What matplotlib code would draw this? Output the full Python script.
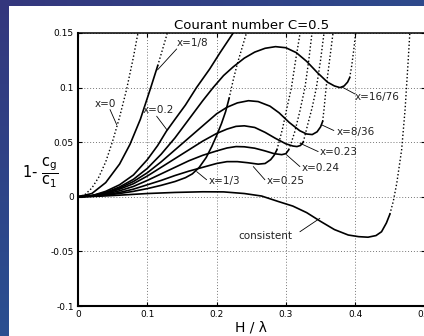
import numpy as np
import matplotlib
matplotlib.use("Agg")
import matplotlib.pyplot as plt
from matplotlib.colors import to_rgb

# ---- data (H/lambda, 1 - cg/c1) ----
# solid part of each curve, then its dotted continuation
h_x0d = [0, 0.01, 0.02, 0.03, 0.04, 0.05, 0.06, 0.07, 0.08, 0.088]
v_x0d = [0, 0.002, 0.008, 0.018, 0.032, 0.051, 0.073, 0.098, 0.128, 0.155]

h_18 = [0, 0.02, 0.04, 0.06, 0.075, 0.09, 0.105, 0.115]
v_18 = [0, 0.003, 0.013, 0.03, 0.048, 0.071, 0.1, 0.12]
h_18d = [0.115, 0.122, 0.128, 0.131]
v_18d = [0.12, 0.135, 0.148, 0.156]

h_02 = [0, 0.02, 0.04, 0.06, 0.08, 0.1, 0.115, 0.1275, 0.14, 0.155, 0.171,
        0.19, 0.205, 0.226]
v_02 = [0, 0.001, 0.005, 0.011, 0.02, 0.034, 0.047, 0.06, 0.071, 0.084, 0.1,
        0.117, 0.132, 0.152]

h_1676 = [0, 0.02, 0.04, 0.06, 0.08, 0.1, 0.12, 0.14, 0.16, 0.18, 0.195, 0.21,
          0.224, 0.24, 0.255, 0.27, 0.285, 0.3, 0.315, 0.33, 0.345, 0.36, 0.37,
          0.378, 0.384, 0.389, 0.392]
v_1676 = [0, 0.001, 0.004, 0.009, 0.016, 0.026, 0.039, 0.054, 0.071, 0.088,
          0.1, 0.111, 0.119, 0.127, 0.1325, 0.136, 0.1375, 0.1365, 0.132, 0.124,
          0.114, 0.105, 0.1015, 0.1, 0.1015, 0.105, 0.109]
h_1676d = [0.392, 0.395, 0.398, 0.401]
v_1676d = [0.109, 0.12, 0.135, 0.152]

h_836 = [0, 0.02, 0.04, 0.06, 0.08, 0.1, 0.12, 0.14, 0.16, 0.18, 0.2, 0.215,
         0.23, 0.246, 0.26, 0.277, 0.29, 0.305, 0.32, 0.33, 0.338, 0.345, 0.35,
         0.353]
v_836 = [0, 0.001, 0.0035, 0.008, 0.014, 0.022, 0.032, 0.043, 0.054, 0.065,
         0.076, 0.082, 0.086, 0.088, 0.0872, 0.083, 0.077, 0.068, 0.0605,
         0.0575, 0.057, 0.0595, 0.064, 0.069]
h_836d = [0.353, 0.355, 0.358, 0.363, 0.368]
v_836d = [0.069, 0.08, 0.1, 0.125, 0.15]

h_023 = [0, 0.02, 0.04, 0.06, 0.08, 0.1, 0.12, 0.14, 0.16, 0.18, 0.2, 0.215,
         0.228, 0.24, 0.255, 0.27, 0.285, 0.3, 0.31, 0.316, 0.321, 0.325]
v_023 = [0, 0.001, 0.003, 0.007, 0.012, 0.019, 0.027, 0.035, 0.043, 0.051,
         0.058, 0.062, 0.0645, 0.065, 0.0635, 0.059, 0.0535, 0.0485, 0.0465,
         0.046, 0.047, 0.05]
h_023d = [0.325, 0.331, 0.338, 0.344, 0.35, 0.355]
v_023d = [0.05, 0.065, 0.082, 0.1, 0.125, 0.15]

h_024 = [0, 0.02, 0.04, 0.06, 0.08, 0.1, 0.12, 0.14, 0.16, 0.18, 0.2, 0.215,
         0.228, 0.24, 0.255, 0.27, 0.283, 0.294, 0.3, 0.304]
v_024 = [0, 0.0008, 0.0025, 0.0055, 0.0095, 0.015, 0.021, 0.027, 0.033, 0.038,
         0.042, 0.0447, 0.046, 0.0458, 0.0445, 0.042, 0.0395, 0.0386, 0.0395,
         0.043]
h_024d = [0.304, 0.308, 0.313, 0.32, 0.3275, 0.333, 0.338]
v_024d = [0.043, 0.05, 0.06, 0.078, 0.1, 0.125, 0.152]

h_025 = [0, 0.02, 0.04, 0.06, 0.08, 0.1, 0.12, 0.14, 0.16, 0.18, 0.2, 0.215,
         0.23, 0.245, 0.26, 0.27, 0.278, 0.283, 0.287]
v_025 = [0, 0.0006, 0.002, 0.004, 0.007, 0.011, 0.015, 0.0195, 0.0235, 0.027,
         0.0305, 0.0322, 0.0322, 0.0312, 0.0299, 0.0305, 0.034, 0.038, 0.043]
h_025d = [0.287, 0.29, 0.295, 0.301, 0.308, 0.314, 0.321]
v_025d = [0.043, 0.05, 0.062, 0.08, 0.1, 0.125, 0.152]

h_13 = [0, 0.02, 0.04, 0.06, 0.08, 0.1, 0.12, 0.14, 0.155, 0.165, 0.175, 0.185,
        0.193, 0.2, 0.207, 0.213, 0.218]
v_13 = [0, 0.0004, 0.0015, 0.003, 0.005, 0.0075, 0.0105, 0.014, 0.0175, 0.021,
        0.027, 0.036, 0.046, 0.056, 0.067, 0.078, 0.09]
h_13d = [0.218, 0.224, 0.23, 0.237, 0.244]
v_13d = [0.09, 0.107, 0.122, 0.137, 0.152]

h_cons = [0, 0.03, 0.06, 0.1, 0.14, 0.18, 0.21, 0.24, 0.265, 0.289, 0.31,
          0.33, 0.35, 0.37, 0.39, 0.405, 0.4185, 0.43, 0.438, 0.445, 0.45]
v_cons = [0, 0.0005, 0.0015, 0.003, 0.004, 0.0046, 0.0045, 0.003, 0.0007,
          -0.0043, -0.0085, -0.0145, -0.0225, -0.030, -0.035, -0.0365, -0.037,
          -0.0355, -0.032, -0.024, -0.016]
h_consd = [0.45, 0.455, 0.46, 0.467, 0.472, 0.476, 0.479]
v_consd = [-0.016, -0.004, 0.0125, 0.043, 0.08, 0.12, 0.152]

solid = [(h_18, v_18), (h_02, v_02), (h_1676, v_1676), (h_836, v_836),
         (h_023, v_023), (h_024, v_024), (h_025, v_025), (h_13, v_13),
         (h_cons, v_cons)]
dotted = [(h_x0d, v_x0d), (h_18d, v_18d), (h_1676d, v_1676d), (h_836d, v_836d),
          (h_023d, v_023d), (h_024d, v_024d), (h_025d, v_025d), (h_13d, v_13d),
          (h_consd, v_consd)]

# label text, text position, alignment, leader line start, leader end (on curve)
labels = [
    ("x=0", (0.0389, 0.0851), "center", (0.0462, 0.0799), (0.0558, 0.0661)),
    ("x=1/8", (0.1659, 0.1409), "center", (0.1424, 0.1354), (0.1147, 0.1162)),
    ("x=0.2", (0.1158, 0.0799), "center", (0.1135, 0.0738), (0.128, 0.0616)),
    ("x=16/76", (0.3996, 0.0918), "left", (0.3996, 0.0942), (0.3808, 0.1006)),
    ("x=8/36", (0.3731, 0.0597), "left", (0.3692, 0.0607), (0.3515, 0.0659)),
    ("x=0.23", (0.349, 0.0414), "left", (0.3466, 0.0414), (0.3202, 0.0491)),
    ("x=0.24", (0.3227, 0.0263), "left", (0.3202, 0.0277), (0.301, 0.0384)),
    ("x=0.25", (0.2722, 0.0146), "left", (0.2697, 0.0156), (0.2529, 0.0277)),
    ("x=1/3", (0.1879, 0.0146), "left", (0.1856, 0.0156), (0.1712, 0.0231)),
    ("consistent", (0.2697, -0.0363), "center", (0.3202, -0.032), (0.349, -0.0197)),
]

xticks = [0, 0.1, 0.2, 0.3, 0.4, 0.5]
xtick_labels = ["0", "0.1", "0.2", "0.3", "0.4", "0.5"]
yticks = [-0.1, -0.05, 0, 0.05, 0.1, 0.15]
ytick_labels = ["-0.1", "-0.05", "0", "0.05", "0.1", "0.15"]

W, H = 424, 336
fig = plt.figure(figsize=(W / 100, H / 100), dpi=100, facecolor="white")

# blue slide border (left and top strips)
def strip(c0, c1, n, across, vertical):
    t = np.linspace(0, 1, n)[:, None]
    col = (1 - t) * np.array(to_rgb(c0)) + t * np.array(to_rgb(c1))
    if vertical:
        return np.repeat(col[:, None, :], across, axis=1)
    return np.repeat(col[None, :, :], across, axis=0)

fig.figimage(strip("#34377d", "#2a4f91", H, 9, True), xo=0, yo=0, origin="upper")
fig.figimage(strip("#34377d", "#2e4a8c", W, 6, False), xo=0, yo=H - 6, origin="upper")

ax = fig.add_axes([78 / W, 30 / H, 346.5 / W, 273 / H])

for hh, vv in solid:
    ax.plot(hh, vv, color="black", lw=1.2, solid_joinstyle="round")
for hh, vv in dotted:
    ax.plot(hh, vv, color="black", lw=1.0, linestyle=(0, (1, 1.6)))

for txt, pos, ha, p0, p1 in labels:
    ax.text(pos[0], pos[1], txt, fontsize=7.5, ha=ha, va="center", color="#222222")
    ax.annotate("", xy=p1, xytext=p0,
                arrowprops=dict(arrowstyle="-", lw=0.6, color="black",
                                shrinkA=0, shrinkB=0))

ax.set_xlim(0, 0.5)
ax.set_ylim(-0.1, 0.15)
ax.set_xticks(xticks)
ax.set_xticklabels(xtick_labels)
ax.set_yticks(yticks)
ax.set_yticklabels(ytick_labels)
ax.tick_params(direction="in", length=3, width=0.8, labelsize=6.5, pad=3,
               top=True, right=True)
ax.grid(True, color="#777777", linestyle=(0, (1, 2)), linewidth=0.7)
for side in ["left", "bottom"]:
    ax.spines[side].set_linewidth(1.5)
ax.spines["top"].set_linewidth(1.1)

ax.set_title("Courant number C=0.5", fontsize=9.5, pad=3)
ax.set_xlabel("H / λ", fontsize=10, labelpad=1)
fig.text(40 / W, 1 - 173 / H,
         r"1- $\dfrac{\mathrm{c}_\mathrm{g}}{\mathrm{c}_\mathrm{1}}$",
         fontsize=10.5, ha="center", va="center")

fig.savefig("out.png", dpi=100)
